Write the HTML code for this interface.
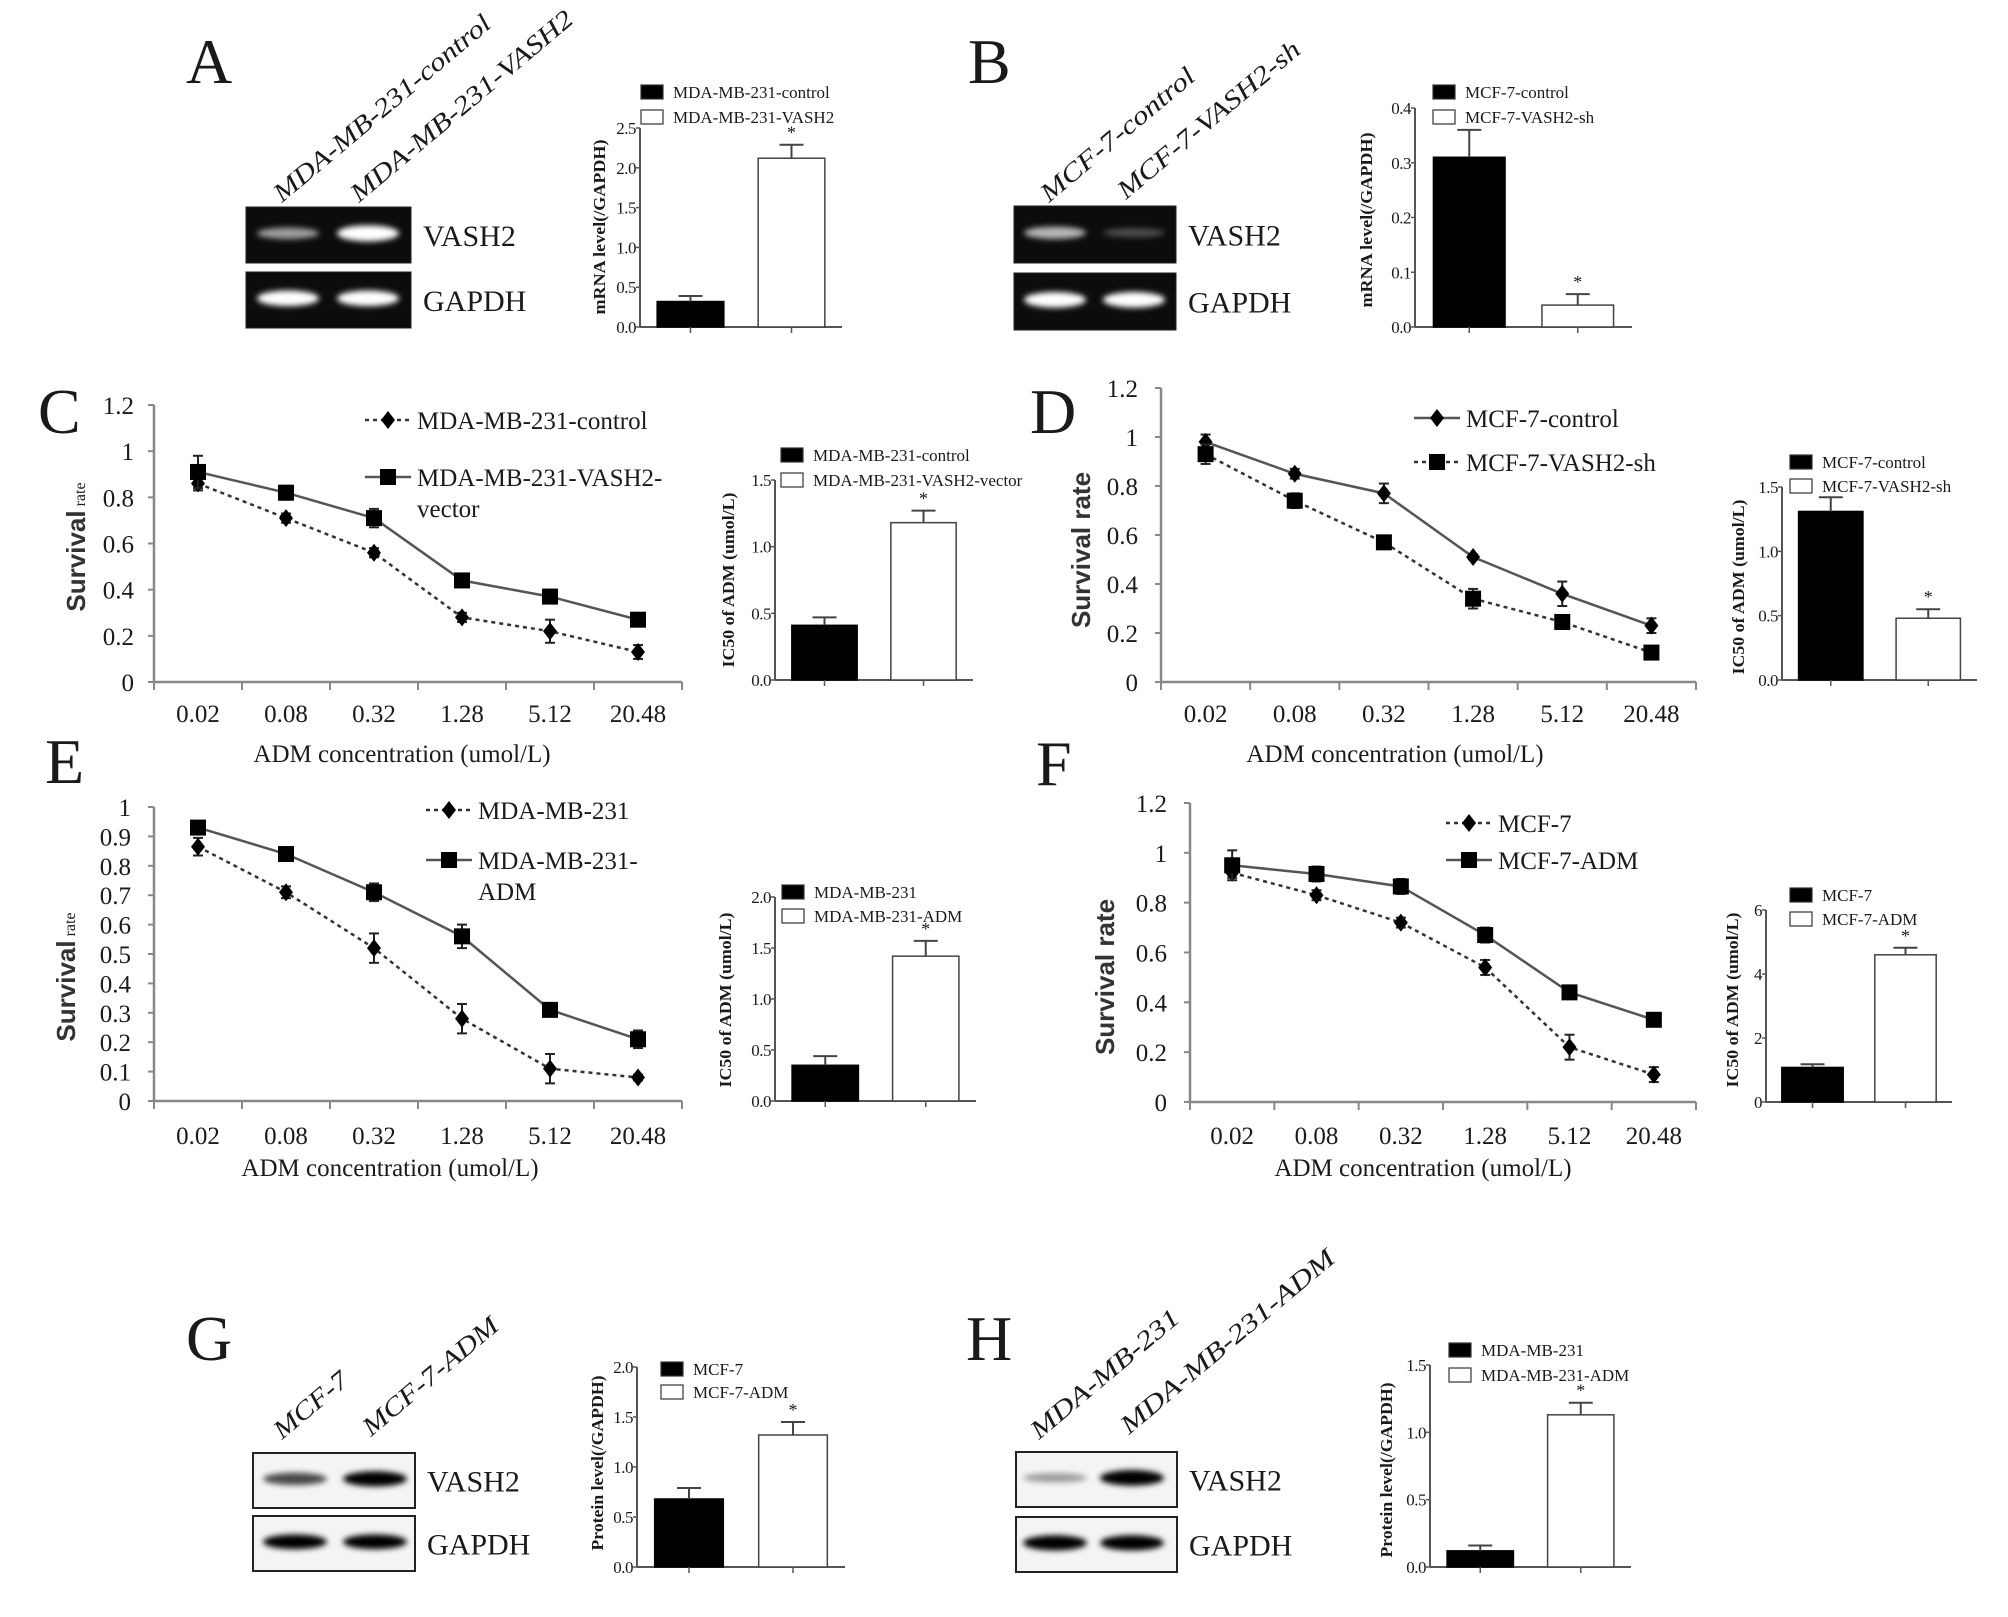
<!DOCTYPE html>
<html><head><meta charset="utf-8"><style>
html,body{margin:0;padding:0;background:#fff;}
svg{display:block;}
text{font-family:"Liberation Serif",serif;fill:#1a1a1a;}
</style></head><body>
<svg id="fig" width="2008" height="1617" viewBox="0 0 2008 1617" xmlns="http://www.w3.org/2000/svg">
<defs>
<filter id="blur3" x="-30%" y="-100%" width="160%" height="300%"><feGaussianBlur stdDeviation="3"/></filter>
<filter id="blur2" x="-30%" y="-100%" width="160%" height="300%"><feGaussianBlur stdDeviation="2"/></filter>
</defs>
</svg>
<script>
// ---------- DATA ----------
const concLabels = ['0.02','0.08','0.32','1.28','5.12','20.48'];
const cCtrl = [0.86,0.71,0.56,0.28,0.22,0.13];
const cCtrlErr = [0.03,0.02,0.02,0.02,0.05,0.03];
const cVec = [0.91,0.82,0.71,0.44,0.37,0.27];
const cVecErr = [0.07,0.03,0.04,0.02,0.03,0.02];
const dCtrl = [0.98,0.85,0.77,0.51,0.36,0.23];
const dCtrlErr = [0.03,0.02,0.04,0.01,0.05,0.03];
const dSh = [0.93,0.74,0.57,0.34,0.245,0.12];
const dShErr = [0.04,0.03,0.02,0.04,0.02,0.01];
const eP = [0.865,0.71,0.52,0.28,0.11,0.08];
const ePErr = [0.03,0.02,0.05,0.05,0.05,0.01];
const eA = [0.93,0.84,0.71,0.56,0.31,0.21];
const eAErr = [0.015,0.01,0.03,0.04,0.01,0.03];
const fP = [0.92,0.83,0.72,0.54,0.22,0.11];
const fPErr = [0.02,0.02,0.02,0.03,0.05,0.03];
const fA = [0.95,0.915,0.865,0.67,0.44,0.33];
const fAErr = [0.06,0.03,0.03,0.03,0.02,0.01];
const ticks12 = ['0','0.2','0.4','0.6','0.8','1','1.2'];
const ticks10 = ['0','0.1','0.2','0.3','0.4','0.5','0.6','0.7','0.8','0.9','1'];

const aVals = [0.32,2.12]; const aErr = [0.07,0.17]; const aTicks = ['0.0','0.5','1.0','1.5','2.0','2.5'];
const bVals = [0.31,0.04]; const bErr = [0.05,0.02]; const bTicks = ['0.0','0.1','0.2','0.3','0.4'];
const ciVals = [0.41,1.18]; const ciErr = [0.06,0.09]; const ciTicks = ['0.0','0.5','1.0','1.5'];
const diVals = [1.31,0.48]; const diErr = [0.11,0.07]; const diTicks = ['0.0','0.5','1.0','1.5'];
const eiVals = [0.35,1.42]; const eiErr = [0.09,0.15]; const eiTicks = ['0.0','0.5','1.0','1.5','2.0'];
const fiVals = [1.08,4.6]; const fiErr = [0.1,0.22]; const fiTicks = ['0','2','4','6'];
const gVals = [0.68,1.32]; const gErr = [0.11,0.13]; const gTicks = ['0.0','0.5','1.0','1.5','2.0'];
const hVals = [0.12,1.13]; const hErr = [0.04,0.09]; const hTicks = ['0.0','0.5','1.0','1.5'];

const svg = document.getElementById('fig');
const NS = 'http://www.w3.org/2000/svg';
function mk(tag, parent){ const e = document.createElementNS(NS, tag); (parent||svg).appendChild(e); return e; }
function group(name){ const g = mk('g'); 
 return g; }
function txt(g, s, x, y, size, anchor, name){
  const t = mk('text', g); t.textContent = s;
  t.setAttribute('x', x); t.setAttribute('y', y); t.setAttribute('font-size', size);
  if (anchor) t.setAttribute('text-anchor', anchor);
  
  
  return t;
}
function line(g, x1,y1,x2,y2, stroke, w, name, dash){
  const l = mk('line', g);
  l.setAttribute('x1',x1); l.setAttribute('y1',y1); l.setAttribute('x2',x2); l.setAttribute('y2',y2);
  l.setAttribute('stroke',stroke); l.setAttribute('stroke-width',w);
  if (dash) l.setAttribute('stroke-dasharray', dash);
  
  
  return l;
}

// panel letters
[['A',186,83],['B',968,83],['C',38,433],['D',1030,433],['E',45,783],['F',1036,785],['G',186,1360],['H',966,1360]].forEach(p=>{
  const g = group('panel-label-'+p[0].toLowerCase());
  txt(g, p[0], p[1], p[2], 64, null, 'panel-letter');
});

// ---------- GELS / BLOTS ----------
function gel(cfg){
  const g = group(cfg.name);
  const rows = [['VASH2', cfg.top, cfg.vash], ['GAPDH', cfg.top+cfg.h+cfg.gap, cfg.gapdh]];
  rows.forEach(r=>{
    const rc = mk('rect', g);
    rc.setAttribute('x', cfg.x); rc.setAttribute('y', r[1]); rc.setAttribute('width', cfg.w); rc.setAttribute('height', cfg.h);
    rc.setAttribute('fill', cfg.dark ? '#0c0c0c' : '#f4f4f4');
    rc.setAttribute('stroke', '#222'); rc.setAttribute('stroke-width', cfg.dark?1:2);
    
    
    cfg.lanes.forEach((lx,i)=>{
      const inten = r[2][i];
      const b = mk('ellipse', g);
      b.setAttribute('cx', lx); b.setAttribute('cy', r[1]+cfg.h*0.47);
      b.setAttribute('rx', cfg.bandW/2); b.setAttribute('ry', 4+inten*4);
      b.setAttribute('fill', cfg.dark ? '#fff' : '#000');
      b.setAttribute('opacity', Math.min(1, 0.15+inten));
      b.setAttribute('filter', 'url(#blur3)');
      
      
    });
    txt(g, r[0], cfg.x+cfg.w+12, r[1]+cfg.h/2+11, 30, null, 'blot-label-'+r[0].toLowerCase());
  });
  cfg.laneLabels.forEach((ll,i)=>{
    const t = txt(g, ll[0], ll[1], ll[2], 26, null, 'lane-label-'+(i+1));
    t.setAttribute('font-style','italic');
    t.setAttribute('transform', 'rotate(-40 '+ll[1]+' '+ll[2]+')');
    t.setAttribute('textLength', ll[3]); t.setAttribute('lengthAdjust','spacingAndGlyphs');
  });
}
gel({name:'gel-a', x:246, w:165, top:207, h:56, gap:9, dark:true, lanes:[288,368], bandW:62,
  vash:[0.45,1.0], gapdh:[0.95,0.95],
  laneLabels:[['MDA-MB-231-control',282,203,275],['MDA-MB-231-VASH2',359,203,282]]});
gel({name:'gel-b', x:1014, w:162, top:206, h:57, gap:10, dark:true, lanes:[1055,1134], bandW:62,
  vash:[0.55,0.12], gapdh:[0.95,0.95],
  laneLabels:[['MCF-7-control',1049,203,193],['MCF-7-VASH2-sh',1126,200,230]]});
gel({name:'blot-g', x:253, w:162, top:1453, h:55, gap:8, dark:false, lanes:[295,375], bandW:64,
  vash:[0.55,0.9], gapdh:[0.85,0.85],
  laneLabels:[['MCF-7',282,1440,89],['MCF-7-ADM',371,1437,169]]});
gel({name:'blot-h', x:1016, w:161, top:1452, h:55, gap:10, dark:false, lanes:[1055,1132], bandW:64,
  vash:[0.2,0.95], gapdh:[0.9,0.9],
  laneLabels:[['MDA-MB-231',1039,1440,186],['MDA-MB-231-ADM',1129,1435,271]]});

// ---------- BAR INSETS ----------
function barChart(cfg){
  const g = group(cfg.name);
  const yS = v => cfg.y0 - v/cfg.max*(cfg.y0-cfg.yTop);
  const slot = (cfg.xEnd-cfg.ax)/cfg.vals.length;
  line(g, cfg.ax, cfg.yTop, cfg.ax, cfg.y0, '#555', 2, 'y-axis');
  line(g, cfg.ax, cfg.y0, cfg.xEnd, cfg.y0, '#555', 2, 'x-axis');
  cfg.ticks.forEach((t,i)=>{
    const v = cfg.max*i/(cfg.ticks.length-1);
    line(g, cfg.ax-4, yS(v), cfg.ax, yS(v), '#555', 1.5, 'y-tick');
    const tt = txt(g, t, cfg.ax-4, yS(v)+6, 17, 'end', 'y-tick-label');
    tt.setAttribute('letter-spacing','-0.5');
  });
  cfg.vals.forEach((v,i)=>{
    const cx = cfg.ax + slot*(i+0.5), bw = slot*0.66;
    const r = mk('rect', g);
    r.setAttribute('x', cx-bw/2); r.setAttribute('y', yS(v)); r.setAttribute('width', bw); r.setAttribute('height', cfg.y0-yS(v));
    r.setAttribute('fill', i===0?'#000':'#fff'); r.setAttribute('stroke', i===0?'#000':'#444'); r.setAttribute('stroke-width', 1.5);
    
    
    line(g, cx, yS(v), cx, yS(v+cfg.err[i]), '#444', 2, 'error-bar');
    line(g, cx-12, yS(v+cfg.err[i]), cx+12, yS(v+cfg.err[i]), '#444', 2, 'error-cap');
    line(g, cx, cfg.y0, cx, cfg.y0+6, '#555', 1.5, 'x-tick');
    if (cfg.star===i) txt(g, '*', cx, yS(v+cfg.err[i])-6, 18, 'middle', 'significance-star');
  });
  cfg.legend.forEach((s,i)=>{
    const ly = cfg.legY + i*cfg.legDy;
    const r = mk('rect', g);
    r.setAttribute('x', cfg.legX); r.setAttribute('y', ly); r.setAttribute('width', 22); r.setAttribute('height', 14);
    r.setAttribute('fill', i===0?'#000':'#fff'); r.setAttribute('stroke', '#333'); r.setAttribute('stroke-width', 1.2);
    
    
    txt(g, s, cfg.legX+32, ly+13, 17, null, 'legend-entry');
  });
  const yl = txt(g, cfg.ylabel, cfg.ylx, cfg.yly, 17, 'middle', 'y-axis-title');
  yl.setAttribute('font-weight','bold');
  yl.setAttribute('transform','rotate(-90 '+cfg.ylx+' '+cfg.yly+')');
  yl.setAttribute('textLength', 175); yl.setAttribute('lengthAdjust','spacingAndGlyphs');
}
barChart({name:'bar-chart-a', ax:640, xEnd:842, y0:327, yTop:128, max:2.5, ticks:aTicks, vals:aVals, err:aErr, star:1,
  legend:['MDA-MB-231-control','MDA-MB-231-VASH2'], legX:641, legY:85, legDy:25, ylabel:'mRNA level(/GAPDH)', ylx:605, yly:227});
barChart({name:'bar-chart-b', ax:1415, xEnd:1632, y0:327, yTop:108, max:0.4, ticks:bTicks, vals:bVals, err:bErr, star:1,
  legend:['MCF-7-control','MCF-7-VASH2-sh'], legX:1433, legY:85, legDy:25, ylabel:'mRNA level(/GAPDH)', ylx:1372, yly:220});
barChart({name:'bar-chart-c', ax:775, xEnd:973, y0:680, yTop:480, max:1.5, ticks:ciTicks, vals:ciVals, err:ciErr, star:1,
  legend:['MDA-MB-231-control','MDA-MB-231-VASH2-vector'], legX:781, legY:448, legDy:25, ylabel:'IC50 of ADM (umol/L)', ylx:734, yly:580});
barChart({name:'bar-chart-d', ax:1782, xEnd:1977, y0:680, yTop:487, max:1.5, ticks:diTicks, vals:diVals, err:diErr, star:1,
  legend:['MCF-7-control','MCF-7-VASH2-sh'], legX:1790, legY:455, legDy:24, ylabel:'IC50 of ADM (umol/L)', ylx:1744, yly:587});
barChart({name:'bar-chart-e', ax:775, xEnd:976, y0:1101, yTop:897, max:2.0, ticks:eiTicks, vals:eiVals, err:eiErr, star:1,
  legend:['MDA-MB-231','MDA-MB-231-ADM'], legX:782, legY:885, legDy:24, ylabel:'IC50 of ADM (umol/L)', ylx:731, yly:1000});
barChart({name:'bar-chart-f', ax:1766, xEnd:1952, y0:1102, yTop:910, max:6, ticks:fiTicks, vals:fiVals, err:fiErr, star:1,
  legend:['MCF-7','MCF-7-ADM'], legX:1790, legY:888, legDy:24, ylabel:'IC50 of ADM (umol/L)', ylx:1738, yly:1000});
barChart({name:'bar-chart-g', ax:637, xEnd:845, y0:1567, yTop:1367, max:2.0, ticks:gTicks, vals:gVals, err:gErr, star:1,
  legend:['MCF-7','MCF-7-ADM'], legX:661, legY:1362, legDy:23, ylabel:'Protein level(/GAPDH)', ylx:603, yly:1463});
barChart({name:'bar-chart-h', ax:1430, xEnd:1631, y0:1567, yTop:1365, max:1.5, ticks:hTicks, vals:hVals, err:hErr, star:1,
  legend:['MDA-MB-231','MDA-MB-231-ADM'], legX:1449, legY:1343, legDy:25, ylabel:'Protein level(/GAPDH)', ylx:1392, yly:1470});

// ---------- LINE CHARTS ----------
function marker(g, type, x, y, name){
  let m;
  if (type==='diamond'){
    m = mk('polygon', g);
    m.setAttribute('points', [x,y-9, x+7,y, x,y+9, x-7,y].join(' ').replace(/(\S+) (\S+)/g,'$1,$2'));
  } else {
    m = mk('rect', g);
    m.setAttribute('x', x-8); m.setAttribute('y', y-8); m.setAttribute('width', 16); m.setAttribute('height', 16);
  }
  m.setAttribute('fill', '#000');
  
  
}
function lineChart(cfg){
  const g = group(cfg.name);
  const n = concLabels.length;
  const step = (cfg.xEnd-cfg.ax)/n;
  const xS = i => cfg.ax + step*(i+0.5);
  const yS = v => cfg.y0 - v/cfg.max*(cfg.y0-cfg.yTop);
  line(g, cfg.ax, cfg.yTop, cfg.ax, cfg.y0, '#888', 2.5, 'y-axis');
  line(g, cfg.ax, cfg.y0, cfg.xEnd, cfg.y0, '#888', 2.5, 'x-axis');
  cfg.ticks.forEach((t,i)=>{
    const v = cfg.max*i/(cfg.ticks.length-1);
    line(g, cfg.ax-6, yS(v), cfg.ax, yS(v), '#888', 2, 'y-tick');
    txt(g, t, cfg.tickX, yS(v)+9, 25, 'end', 'y-tick-label');
  });
  for (let i=0;i<=n;i++) line(g, cfg.ax+step*i, cfg.y0, cfg.ax+step*i, cfg.y0+8, '#888', 2, 'x-tick');
  concLabels.forEach((c,i)=> txt(g, c, xS(i), cfg.xlabY, 25, 'middle', 'x-tick-label'));
  txt(g, 'ADM concentration  (umol/L)', cfg.xtitleX, cfg.xtitleY, 25, 'middle', 'x-axis-title').setAttribute('xml:space','preserve');
  cfg.series.forEach(s=>{
    const sg = mk('g', g);
    
    
    const pl = mk('polyline', sg);
    pl.setAttribute('points', s.vals.map((v,i)=>xS(i)+','+yS(v)).join(' '));
    pl.setAttribute('fill','none'); pl.setAttribute('stroke', s.dash?'#333':'#555'); pl.setAttribute('stroke-width', 2.5);
    if (s.dash) pl.setAttribute('stroke-dasharray','4,4');
    
    
    s.vals.forEach((v,i)=>{
      const e = s.err[i];
      line(sg, xS(i), yS(v-e), xS(i), yS(v+e), '#222', 2, 'error-bar');
      line(sg, xS(i)-5, yS(v+e), xS(i)+5, yS(v+e), '#222', 2, 'error-cap');
      line(sg, xS(i)-5, yS(v-e), xS(i)+5, yS(v-e), '#222', 2, 'error-cap');
      marker(sg, s.marker, xS(i), yS(v), 'point');
    });
  });
  cfg.legend.forEach(L=>{
    const lg = mk('g', g);
    
    
    line(lg, cfg.legX, L.y, cfg.legX+46, L.y, L.dash?'#333':'#555', 2.5, 'legend-line', L.dash?'4,4':null);
    marker(lg, L.marker, cfg.legX+23, L.y, 'legend-marker');
    L.lines.forEach((s,k)=> txt(lg, s, cfg.legX+52, L.y+9+k*31, 25, null, 'legend-label'));
  });
  const sl = mk('text', g);
  sl.setAttribute('x', cfg.slx); sl.setAttribute('y', cfg.sly); sl.setAttribute('text-anchor','middle');
  sl.setAttribute('transform','rotate(-90 '+cfg.slx+' '+cfg.sly+')');
  
  
  const t1 = mk('tspan', sl); t1.textContent = 'Survival';
  t1.setAttribute('font-family','"Liberation Sans",sans-serif'); t1.setAttribute('font-weight','bold'); t1.setAttribute('font-size', 26);
  t1.setAttribute('fill','#333');
  const t2 = mk('tspan', sl); t2.textContent = ' rate';
  if (cfg.bigRate){ t2.setAttribute('font-family','"Liberation Sans",sans-serif'); t2.setAttribute('font-weight','bold'); t2.setAttribute('font-size', 26); t2.setAttribute('fill','#333'); }
  else { t2.setAttribute('font-size', 16); }
}
lineChart({name:'line-chart-c', ax:154, xEnd:682, y0:682, yTop:405, max:1.2, ticks:ticks12, tickX:134,
  xlabY:722, xtitleX:402, xtitleY:762, slx:85, sly:547, bigRate:false,
  series:[{label:'MDA-MB-231-control', vals:cCtrl, err:cCtrlErr, dash:true, marker:'diamond'},
          {label:'MDA-MB-231-VASH2-vector', vals:cVec, err:cVecErr, dash:false, marker:'square'}],
  legX:365, legend:[{y:420, dash:true, marker:'diamond', lines:['MDA-MB-231-control']},
                    {y:477, dash:false, marker:'square', lines:['MDA-MB-231-VASH2-','vector']}]});
lineChart({name:'line-chart-d', ax:1161, xEnd:1696, y0:682, yTop:388, max:1.2, ticks:ticks12, tickX:1138,
  xlabY:722, xtitleX:1395, xtitleY:762, slx:1090, sly:550, bigRate:true,
  series:[{label:'MCF-7-control', vals:dCtrl, err:dCtrlErr, dash:false, marker:'diamond'},
          {label:'MCF-7-VASH2-sh', vals:dSh, err:dShErr, dash:true, marker:'square'}],
  legX:1414, legend:[{y:418, dash:false, marker:'diamond', lines:['MCF-7-control']},
                     {y:462, dash:true, marker:'square', lines:['MCF-7-VASH2-sh']}]});
lineChart({name:'line-chart-e', ax:154, xEnd:682, y0:1101, yTop:807, max:1.0, ticks:ticks10, tickX:131,
  xlabY:1144, xtitleX:390, xtitleY:1176, slx:75, sly:977, bigRate:false,
  series:[{label:'MDA-MB-231', vals:eP, err:ePErr, dash:true, marker:'diamond'},
          {label:'MDA-MB-231-ADM', vals:eA, err:eAErr, dash:false, marker:'square'}],
  legX:426, legend:[{y:810, dash:true, marker:'diamond', lines:['MDA-MB-231']},
                    {y:860, dash:false, marker:'square', lines:['MDA-MB-231-','ADM']}]});
lineChart({name:'line-chart-f', ax:1190, xEnd:1696, y0:1102, yTop:803, max:1.2, ticks:ticks12, tickX:1167,
  xlabY:1144, xtitleX:1423, xtitleY:1176, slx:1114, sly:977, bigRate:true,
  series:[{label:'MCF-7', vals:fP, err:fPErr, dash:true, marker:'diamond'},
          {label:'MCF-7-ADM', vals:fA, err:fAErr, dash:false, marker:'square'}],
  legX:1446, legend:[{y:823, dash:true, marker:'diamond', lines:['MCF-7']},
                     {y:860, dash:false, marker:'square', lines:['MCF-7-ADM']}]});
</script>
</body></html>
